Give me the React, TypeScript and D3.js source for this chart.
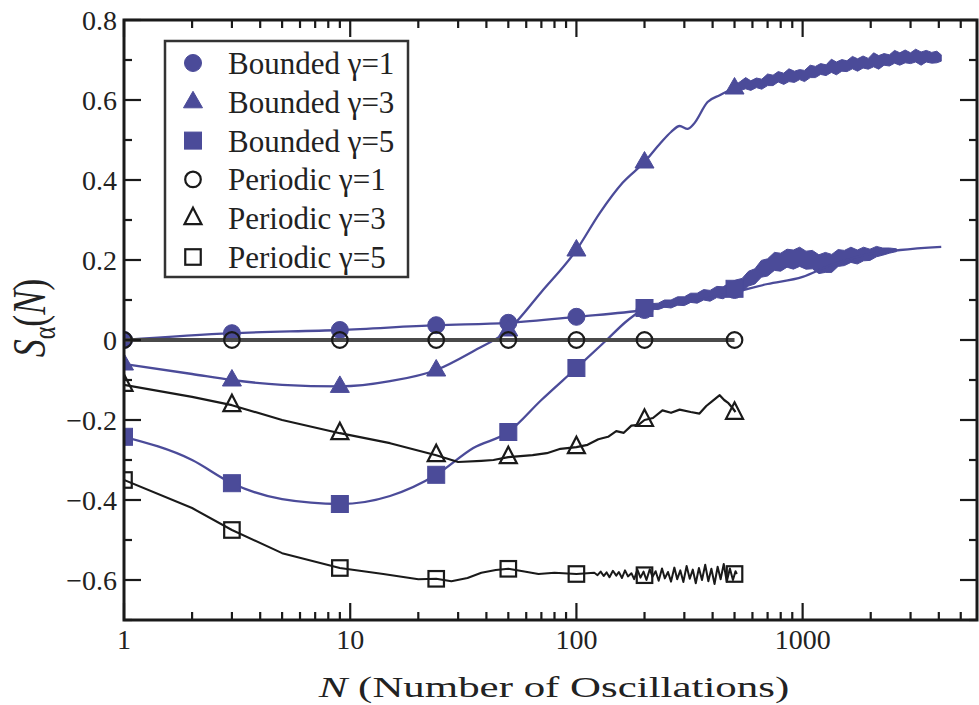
import React from 'react';
import * as d3 from 'd3';

const W = 979, H = 705;
const BLUE = '#4b4b99';
const BLACK = '#1a1a1a';

// x positions of the symbols
const markerN = [1, 3, 9, 24, 50, 100, 200, 500];

const bounded1Marks = [0, 0.017, 0.025, 0.037, 0.043, 0.058, 0.075, 0.125];
const bounded3Marks = [-0.06, -0.1, -0.116, -0.075, 0.025, 0.225, 0.445, 0.63];
const bounded5Marks = [-0.242, -0.358, -0.41, -0.337, -0.23, -0.07, 0.08, 0.128];
const periodic1Marks = [0, 0, 0, 0, 0, 0, 0, 0];
const periodic3Marks = [-0.112, -0.163, -0.233, -0.288, -0.293, -0.268, -0.2, -0.182];
const periodic5Marks = [-0.35, -0.475, -0.57, -0.597, -0.572, -0.585, -0.588, -0.585];

// continuous curves
const bounded1N = [1, 3, 9, 24, 50, 100, 200, 500, 700, 1000, 1300, 1800, 2700, 4100];
const bounded1V = [0, 0.017, 0.025, 0.037, 0.043, 0.058, 0.075, 0.12, 0.14, 0.158, 0.185, 0.21, 0.225, 0.233];

const bounded3N = [1, 2, 3, 5, 9, 15, 24, 35, 50, 70, 100, 127, 160, 200, 236, 262, 286, 310, 330, 380, 430, 500];
const bounded3V = [-0.06, -0.085, -0.1, -0.112, -0.116, -0.103, -0.075, -0.028, 0.025, 0.12, 0.225, 0.318, 0.393, 0.445, 0.493, 0.52, 0.535, 0.528, 0.54, 0.595, 0.612, 0.63];

const bounded3NoiseN = [500, 530, 560, 590, 625, 660, 700, 740, 780, 825, 870, 920, 970, 1020, 1080, 1140, 1200, 1270, 1340, 1410,
  1490, 1570, 1660, 1750, 1850, 1950, 2060, 2170, 2290, 2420, 2550, 2690, 2840, 3000, 3160, 3340, 3520, 3720, 3920, 4100];
const bounded3NoiseHi = [0.636, 0.646, 0.656, 0.648, 0.655, 0.652, 0.665, 0.662, 0.671, 0.667, 0.678, 0.672, 0.676, 0.674, 0.687, 0.684, 0.691, 0.688, 0.702, 0.695,
  0.701, 0.698, 0.709, 0.703, 0.71, 0.704, 0.718, 0.711, 0.716, 0.713, 0.724, 0.718, 0.725, 0.718, 0.727, 0.72, 0.724, 0.719, 0.722, 0.713];
const bounded3NoiseLo = [0.624, 0.624, 0.628, 0.624, 0.631, 0.627, 0.636, 0.636, 0.645, 0.639, 0.646, 0.644, 0.651, 0.646, 0.656, 0.656, 0.664, 0.661, 0.669, 0.663,
  0.672, 0.671, 0.678, 0.672, 0.68, 0.677, 0.683, 0.677, 0.687, 0.685, 0.692, 0.687, 0.693, 0.691, 0.695, 0.687, 0.695, 0.692, 0.693, 0.697];

const bounded5N = [1, 2, 3, 5, 9, 15, 24, 35, 50, 70, 100, 136, 165, 200];
const bounded5V = [-0.242, -0.3, -0.358, -0.398, -0.41, -0.39, -0.337, -0.27, -0.23, -0.15, -0.07, 0.0, 0.045, 0.08];

const bounded5NoiseN = [200, 215, 230, 245, 262, 280, 300, 320, 342, 365, 390, 417, 445, 475, 507, 540, 577, 615, 657, 700,
  750, 800, 853, 910, 970, 1035, 1105, 1180, 1260, 1345, 1435, 1530, 1635, 1745, 1860, 1985, 2120, 2260, 2420, 2600];
const bounded5NoiseHi = [0.083, 0.091, 0.092, 0.1, 0.1, 0.108, 0.108, 0.117, 0.117, 0.126, 0.124, 0.134, 0.133, 0.143, 0.15, 0.154, 0.172, 0.178, 0.199, 0.203,
  0.219, 0.217, 0.227, 0.225, 0.232, 0.222, 0.224, 0.213, 0.219, 0.214, 0.226, 0.224, 0.232, 0.225, 0.232, 0.227, 0.234, 0.23, 0.23, 0.228];
const bounded5NoiseLo = [0.077, 0.077, 0.076, 0.082, 0.08, 0.087, 0.086, 0.094, 0.092, 0.1, 0.097, 0.106, 0.103, 0.113, 0.11, 0.121, 0.135, 0.14, 0.157, 0.16,
  0.174, 0.172, 0.182, 0.177, 0.184, 0.177, 0.178, 0.166, 0.169, 0.169, 0.184, 0.186, 0.194, 0.19, 0.198, 0.199, 0.208, 0.212, 0.217, 0.221];

const periodic1N = [1, 500];
const periodic1V = [0, 0];

const periodic3N = [1, 2, 3, 5, 9, 15, 24, 30, 38, 43, 50, 64, 74, 85, 100, 112, 125, 138, 150, 162, 175, 188, 200, 218, 240, 262, 286, 320, 350, 375, 400, 430, 450, 470, 490, 505];
const periodic3V = [-0.112, -0.142, -0.163, -0.2, -0.233, -0.258, -0.288, -0.305, -0.302, -0.3, -0.293, -0.288, -0.283, -0.272, -0.268, -0.262, -0.248, -0.242, -0.228, -0.232, -0.214, -0.212, -0.2, -0.195, -0.176, -0.182, -0.174, -0.18, -0.184, -0.165, -0.152, -0.138, -0.15, -0.158, -0.17, -0.18];

const periodic5N = [1, 2, 3, 5, 9, 14, 20, 24, 28, 33, 38, 44, 50, 58, 68, 80, 100,
  120, 124, 128, 132, 136, 140, 145, 150, 154, 159, 164, 169, 175, 180, 186, 192, 198, 204, 211, 217, 224, 231, 239, 246,
  254, 262, 271, 279, 288, 297, 307, 317, 327, 337, 348, 359, 371, 383, 395, 408, 421, 434, 448, 462, 477, 492, 505, 512];
const periodic5V = [-0.35, -0.42, -0.475, -0.533, -0.57, -0.585, -0.598, -0.597, -0.603, -0.595, -0.582, -0.575, -0.572, -0.578, -0.585, -0.582, -0.585,
  -0.582, -0.588, -0.579, -0.59, -0.581, -0.593, -0.577, -0.589, -0.58, -0.595, -0.576, -0.591, -0.583, -0.598, -0.574, -0.594, -0.579, -0.6, -0.573, -0.592, -0.578, -0.602, -0.571, -0.596,
  -0.58, -0.604, -0.569, -0.598, -0.576, -0.605, -0.565, -0.597, -0.574, -0.608, -0.57, -0.6, -0.562, -0.603, -0.572, -0.61, -0.567, -0.598, -0.56, -0.604, -0.571, -0.6, -0.578, -0.585];

const xTickValues = [1, 10, 100, 1000];
const xTickLabels = ['1', '10', '100', '1000'];
const yTickValues = [-0.6, -0.4, -0.2, 0, 0.2, 0.4, 0.6, 0.8];
const yTickLabels = ['\u22120.6', '\u22120.4', '\u22120.2', '0', '0.2', '0.4', '0.6', '0.8'];

const legendLabels = ['Bounded \u03b3=1', 'Bounded \u03b3=3', 'Bounded \u03b3=5', 'Periodic \u03b3=1', 'Periodic \u03b3=3', 'Periodic \u03b3=5'];
const legendShapes = ['circle', 'triangle', 'square', 'circle', 'triangle', 'square'];
const legendFilled = [true, true, true, false, false, false];

const L = 124, R = 977, T = 20, B = 620;
const x = d3.scaleLog().domain([1, 5900]).range([L, R]);
const y = d3.scaleLinear().domain([-0.7, 0.8]).range([B, T]);

const zip = (a: number[], b: number[]) => a.map((n, i) => [n, b[i]] as [number, number]);

const smooth = d3.line<[number, number]>().x(d => x(d[0])).y(d => y(d[1])).curve(d3.curveMonotoneX);
const straight = d3.line<[number, number]>().x(d => x(d[0])).y(d => y(d[1]));
const band = (n: number[], lo: number[], hi: number[]) =>
  d3.area<number>().x(i => x(n[i])).y0(i => y(lo[i])).y1(i => y(hi[i]))(n.map((_, i) => i)) || '';

function Marker({ shape, filled, cx, cy }: { shape: string; filled: boolean; cx: number; cy: number }) {
  const fill = filled ? BLUE : 'none';
  const stroke = filled ? BLUE : BLACK;
  const sw = filled ? 1 : 2.2;
  if (shape === 'circle') return <circle cx={cx} cy={cy} r={filled ? 8.5 : 7.8} fill={fill} stroke={stroke} strokeWidth={sw} />;
  if (shape === 'square') {
    const s = filled ? 17 : 15.5;
    return <rect x={cx - s / 2} y={cy - s / 2} width={s} height={s} fill={fill} stroke={stroke} strokeWidth={sw} />;
  }
  const hw = filled ? 9.5 : 8.5;
  return <path d={`M${cx},${cy - 10.5} L${cx + hw},${cy + 6} L${cx - hw},${cy + 6} Z`} fill={fill} stroke={stroke} strokeWidth={sw} strokeLinejoin="miter" />;
}

export default function App() {
  const minorX: number[] = [];
  [1, 10, 100, 1000].forEach(d => { for (let k = 2; k <= 9; k++) if (d * k <= 5900) minorX.push(d * k); });
  const minorY: number[] = [];
  for (let v = -7; v <= 8; v++) if (v % 2 !== 0) minorY.push(v / 10);

  const font = '"Liberation Serif", "Times New Roman", serif';
  const series = [
    { marks: bounded1Marks, shape: 'circle', filled: true },
    { marks: bounded3Marks, shape: 'triangle', filled: true },
    { marks: bounded5Marks, shape: 'square', filled: true },
  ];
  const periodic = [
    { marks: periodic1Marks, shape: 'circle', filled: false },
    { marks: periodic3Marks, shape: 'triangle', filled: false },
    { marks: periodic5Marks, shape: 'square', filled: false },
  ];

  return (
    <svg width={W} height={H} style={{ position: 'absolute', left: 0, top: 0, background: '#fff' }} fontFamily={font}>
      <defs>
        <clipPath id="plot"><rect x={L} y={T} width={R - L} height={B - T} /></clipPath>
      </defs>
      <rect x={0} y={0} width={W} height={H} fill="#fff" />
      <g clipPath="url(#plot)">
        {/* bounded curves */}
        <path d={band(bounded3NoiseN, bounded3NoiseLo, bounded3NoiseHi)} fill={BLUE} stroke={BLUE} strokeWidth={1} strokeLinejoin="bevel" />
        <path d={band(bounded5NoiseN, bounded5NoiseLo, bounded5NoiseHi)} fill={BLUE} stroke={BLUE} strokeWidth={1} strokeLinejoin="bevel" />
        <path d={smooth(zip(bounded1N, bounded1V)) || ''} fill="none" stroke={BLUE} strokeWidth={2.3} />
        <path d={smooth(zip(bounded3N, bounded3V)) || ''} fill="none" stroke={BLUE} strokeWidth={2.3} />
        <path d={smooth(zip(bounded5N, bounded5V)) || ''} fill="none" stroke={BLUE} strokeWidth={2.3} />
        {series.map((s, si) => markerN.map((n, i) => (
          <Marker key={`b${si}-${i}`} shape={s.shape} filled={s.filled} cx={x(n)} cy={y(s.marks[i])} />
        )))}
        {/* periodic curves */}
        <path d={straight(zip(periodic1N, periodic1V)) || ''} fill="none" stroke="#4a4a4a" strokeWidth={4} />
        <path d={straight(zip(periodic3N, periodic3V)) || ''} fill="none" stroke={BLACK} strokeWidth={2.2} strokeLinejoin="round" />
        <path d={straight(zip(periodic5N, periodic5V)) || ''} fill="none" stroke={BLACK} strokeWidth={2} strokeLinejoin="round" />
        {periodic.map((s, si) => markerN.map((n, i) => (
          <Marker key={`p${si}-${i}`} shape={s.shape} filled={s.filled} cx={x(n)} cy={y(s.marks[i])} />
        )))}
      </g>

      {/* ticks */}
      <g stroke={BLACK} strokeWidth={2.2}>
        {xTickValues.map(v => (
          <g key={`xt${v}`}>
            <line x1={x(v)} x2={x(v)} y1={B} y2={B - 17} />
            <line x1={x(v)} x2={x(v)} y1={T} y2={T + 17} />
          </g>
        ))}
        {minorX.map(v => (
          <g key={`xm${v}`}>
            <line x1={x(v)} x2={x(v)} y1={B} y2={B - 8} />
            <line x1={x(v)} x2={x(v)} y1={T} y2={T + 8} />
          </g>
        ))}
        {yTickValues.map(v => (
          <g key={`yt${v}`}>
            <line x1={L} x2={L + 17} y1={y(v)} y2={y(v)} />
            <line x1={R} x2={R - 17} y1={y(v)} y2={y(v)} />
          </g>
        ))}
        {minorY.map(v => (
          <g key={`ym${v}`}>
            <line x1={L} x2={L + 8} y1={y(v)} y2={y(v)} />
            <line x1={R} x2={R - 8} y1={y(v)} y2={y(v)} />
          </g>
        ))}
      </g>
      <rect x={L} y={T} width={R - L} height={B - T} fill="none" stroke={BLACK} strokeWidth={3} />

      {/* tick labels */}
      <g fontSize={28} fill="#222">
        {xTickValues.map((v, i) => (
          <text key={`xl${v}`} x={x(v)} y={649} textAnchor="middle">{xTickLabels[i]}</text>
        ))}
        {yTickValues.map((v, i) => (
          <text key={`yl${v}`} x={117} y={y(v) + 10} textAnchor="end">{yTickLabels[i]}</text>
        ))}
      </g>

      {/* axis titles */}
      <text transform="translate(554,697) scale(1.43,1)" textAnchor="middle" fontSize={30} fill="#222">
        <tspan fontStyle="italic">N</tspan> (Number of Oscillations)
      </text>
      <text transform="translate(45,318) scale(1.3,1) rotate(-90)" textAnchor="middle" fontSize={36} fill="#222">
        <tspan fontStyle="italic">S</tspan>
        <tspan fontSize={24} dy={8}>{'\u03b1'}</tspan>
        <tspan dy={-8}>(</tspan>
        <tspan fontStyle="italic">N</tspan>
        <tspan>)</tspan>
      </text>

      {/* legend */}
      <rect x={165} y={41} width={243} height={236} fill="#fff" stroke="#333" strokeWidth={2.5} />
      {legendLabels.map((lab, i) => {
        const cy = 63 + i * 38.8;
        return (
          <g key={lab}>
            <Marker shape={legendShapes[i]} filled={legendFilled[i]} cx={193} cy={cy} />
            <text x={228} y={cy + 11} fontSize={31} fill="#222">{lab}</text>
          </g>
        );
      })}
    </svg>
  );
}
